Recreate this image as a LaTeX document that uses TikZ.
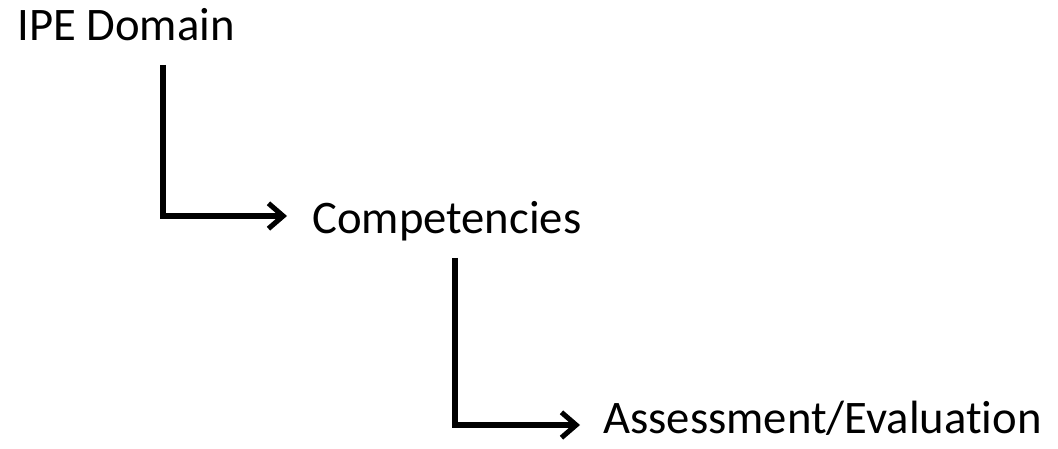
\documentclass[tikz,border=0pt]{standalone}
\usepackage{fontspec}
\setmainfont{Carlito}[RawFeature={-liga;-clig;-dlig}]
\usetikzlibrary{arrows.meta}
\tikzset{
	lbl/.style={inner sep=0pt, anchor=base west, font=\fontsize{35}{42}\selectfont},
	flow/.style={line width=3.8pt, -{Straight Barb[length=11pt,width=19pt]}}
}
\begin{document}
\begin{tikzpicture}[x=0.75pt,y=-0.75pt]
	\useasboundingbox (0,0) rectangle (1058,449);
	
	\node[lbl] (ipe) at (17,41) {IPE Domain};
	\node[lbl] (comp) at (312,234) {Competencies};
	\node[lbl] (assess) at (603,433) {Assessment/Evaluation};
	
	\coordinate (compin) at ([shift={(-25,-18)}]comp.base west);
	\coordinate (assessin) at ([shift={(-23,-8)}]assess.base west);
	
	\draw[flow] (ipe.base west) ++(146,24) |- (compin);
	\draw[flow] (comp.base west) ++(143,24) |- (assessin);
\end{tikzpicture}
\end{document}
